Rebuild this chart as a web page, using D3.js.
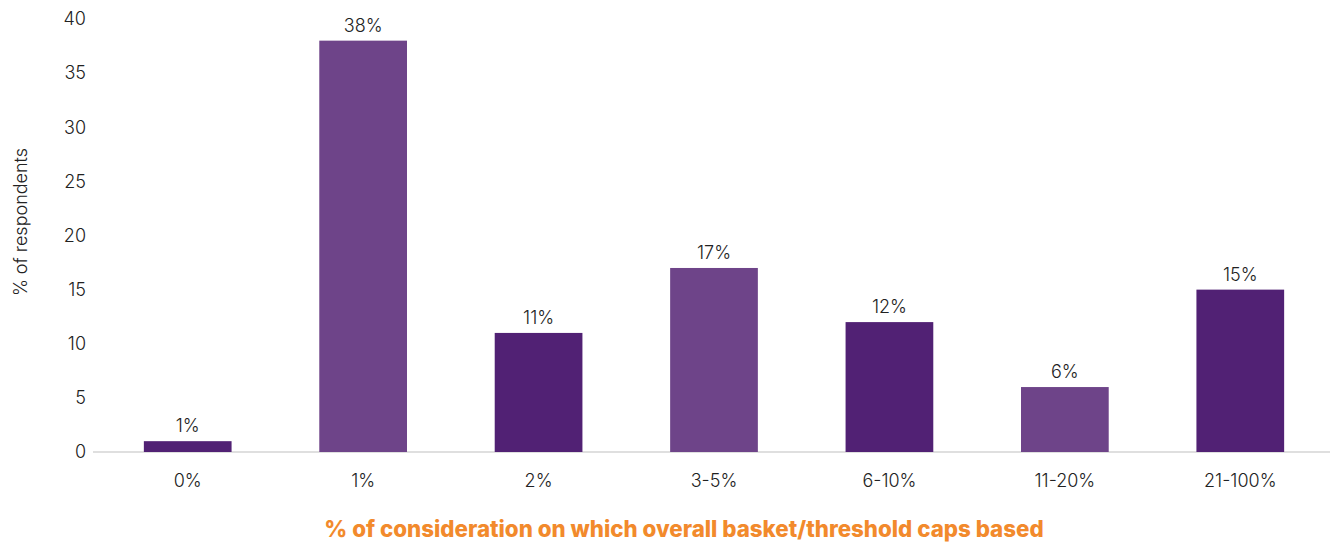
<!DOCTYPE html>
<html>
<head>
<meta charset="utf-8">
<script src="https://cdn.jsdelivr.net/npm/d3@7"></script>
<style>
  html, body { margin: 0; padding: 0; background: #fff; }
  svg { display: block; font-family: "Inter", "Open Sans", sans-serif; }
</style>
</head>
<body>
<svg id="chart" width="1336" height="542"></svg>
<script>
// Share of respondents by consideration-percentage band
const categories = ["0%", "1%", "2%", "3-5%", "6-10%", "11-20%", "21-100%"];
const values = [1, 38, 11, 17, 12, 6, 15];
const yTicks = [0, 5, 10, 15, 20, 25, 30, 35, 40];
const barColors = ["#512174", "#6e4489"];

const svg = d3.select("#chart");

const x = d3.scaleBand()
  .domain(categories)
  .range([100, 1328])
  .paddingInner(0.5)
  .paddingOuter(0.25);

const y = d3.scaleLinear()
  .domain([0, 40])
  .range([452, 19]);

// baseline
svg.append("line")
  .attr("x1", 93).attr("x2", 1330)
  .attr("y1", y(0)).attr("y2", y(0))
  .attr("stroke", "#bfbfbf").attr("stroke-width", 1.2);

// y axis (labels only)
const yAxis = d3.axisLeft(y).tickValues(yTicks).tickSize(0).tickPadding(0);
const gy = svg.append("g").attr("transform", "translate(86,0)").call(yAxis);
gy.select(".domain").remove();
gy.selectAll("text")
  .attr("font-size", 18).attr("fill", "#222").attr("font-weight", 300)
  .attr("font-family", "Inter, sans-serif");

// x axis (labels only)
const xAxis = d3.axisBottom(x).tickSize(0).tickPadding(0);
const gx = svg.append("g").attr("transform", "translate(0,474)").call(xAxis);
gx.select(".domain").remove();
gx.selectAll("text")
  .attr("font-size", 18).attr("fill", "#222").attr("font-weight", 300)
  .attr("font-family", "Inter, sans-serif");

// bars
svg.append("g").selectAll("rect")
  .data(categories)
  .join("rect")
  .attr("x", d => x(d))
  .attr("width", x.bandwidth())
  .attr("y", (d, i) => y(values[i]))
  .attr("height", (d, i) => y(0) - y(values[i]))
  .attr("fill", (d, i) => barColors[i % 2]);

// value labels
svg.append("g").selectAll("text")
  .data(categories)
  .join("text")
  .attr("x", d => x(d) + x.bandwidth() / 2)
  .attr("y", (d, i) => y(values[i]) - 9)
  .attr("text-anchor", "middle")
  .attr("font-size", 18)
  .attr("font-weight", 300)
  .attr("fill", "#222")
  .text((d, i) => values[i] + "%");

// y axis title
svg.append("text")
  .attr("transform", "translate(27,222) rotate(-90)")
  .attr("text-anchor", "middle")
  .attr("font-size", 18)
  .attr("font-weight", 300)
  .attr("fill", "#222")
  .text("% of respondents");

// x axis title
svg.append("text")
  .attr("x", 684)
  .attr("y", 537)
  .attr("text-anchor", "middle")
  .attr("font-size", 22.3)
  .attr("font-weight", 800)
  .attr("fill", "#f28a2c")
  .text("% of consideration on which overall basket/threshold caps based");
</script>
</body>
</html>
